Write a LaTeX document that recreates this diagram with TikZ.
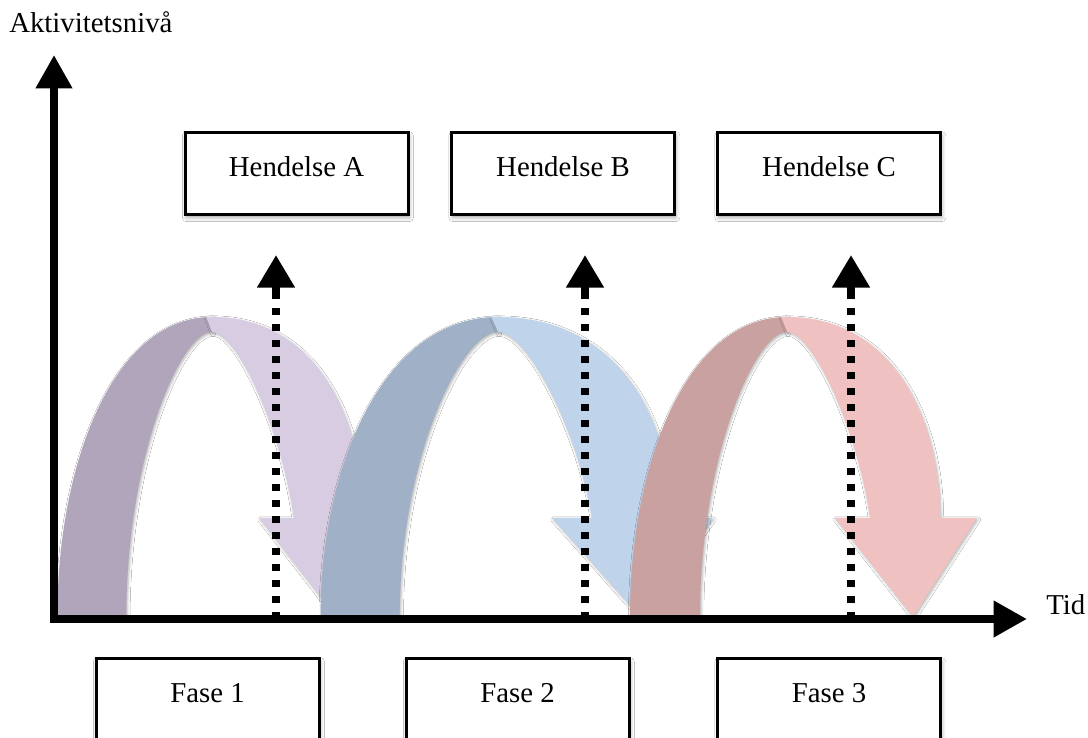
\documentclass[tikz,border=0pt]{standalone}
\usepackage{fontspec}
\setmainfont{Liberation Serif}
\usetikzlibrary{arrows.meta,shadows.blur}
\definecolor{purD}{RGB}{177,165,187}
\definecolor{purL}{RGB}{215,204,225}
\definecolor{bluD}{RGB}{160,176,198}
\definecolor{bluL}{RGB}{191,211,234}
\definecolor{pinD}{RGB}{201,161,161}
\definecolor{pinL}{RGB}{239,193,193}
\tikzset{
  lbl/.style={font=\fontsize{21.6pt}{26pt}\selectfont, inner sep=0pt},
  evbox/.style={draw=black, line width=2.25pt, fill=white,
    minimum width=167.25pt, text height=33pt, text depth=28.5pt,
    inner xsep=0pt, inner ysep=0pt, font=\fontsize{21.6pt}{26pt}\selectfont,
    blur shadow={shadow xshift=1pt, shadow yshift=-2pt, shadow blur radius=3pt, shadow opacity=35}},
  ribshadow/.style={blur shadow={shadow xshift=0.8pt, shadow yshift=-1.2pt, shadow blur radius=2pt, shadow opacity=30}},
  axisline/.style={line width=6pt, line join=miter},
  dotline/.style={line width=6pt, dash pattern=on 5.6pt off 6.4pt},
  bigtip/.tip={Triangle[width=26pt,length=25pt]},
  smalltip/.tip={Triangle[width=27pt,length=24.5pt]}
}
\newcommand{\ribbonarrow}[4]{%
  \begin{scope}[shift={(#1,121)},xscale=#2]
    \fill[#3, ribshadow] (-157,0) .. controls (-157,150) and (-102,300) .. (0,300)
      -- (0,285) .. controls (-32,285) and (-87,160) .. (-87,0) -- cycle;
    \fill[#4, ribshadow] (-6,300) -- (0,300) .. controls (105,300) and (153,200) .. (153,99)
      -- (190,99) -- (126,0) -- (48,99) -- (83,99)
      .. controls (70,190) and (25,285) .. (0,285) -- cycle;
  \end{scope}}
\begin{document}
\begin{tikzpicture}[x=0.75pt,y=0.75pt]
  \useasboundingbox (0,0) rectangle (1088,738);
  \clip (0,0) rectangle (1088,738);
  \fill[white] (0,0) rectangle (1088,738);

  % ribbon arrows
  \ribbonarrow{212}{0.985}{purD}{purL}
  \ribbonarrow{498}{1.13}{bluD}{bluL}
  \ribbonarrow{787}{1}{pinD}{pinL}

  % coordinates
  \coordinate (O) at (54,119);
  \coordinate (ytip) at (54,683);
  \coordinate (xtip) at (1027,119);
  \coordinate (d1b) at (276,119);
  \coordinate (d1m) at (276,440);
  \coordinate (d1t) at (276,483);
  \coordinate (d2b) at (585,119);
  \coordinate (d2m) at (585,440);
  \coordinate (d2t) at (585,483);
  \coordinate (d3b) at (851,119);
  \coordinate (d3m) at (851,440);
  \coordinate (d3t) at (851,483);

  % dotted event arrows
  \draw[dotline] (d1b) -- (d1m);
  \draw[line width=6pt, -smalltip] (d1m) -- (d1t);
  \draw[dotline] (d2b) -- (d2m);
  \draw[line width=6pt, -smalltip] (d2m) -- (d2t);
  \draw[dotline] (d3b) -- (d3m);
  \draw[line width=6pt, -smalltip] (d3m) -- (d3t);

  % axes
  \draw[axisline, bigtip-bigtip] (ytip) -- (O) -- (xtip);

  % boxes
  \node[evbox] (hA) at (296.5,564) {Hendelse A};
  \node[evbox] (hB) at (563,564) {Hendelse B};
  \node[evbox] (hC) at (829,564) {Hendelse C};
  \node[evbox] (f1) at (207.5,38) {Fase 1};
  \node[evbox] (f2) at (517.5,38) {Fase 2};
  \node[evbox] (f3) at (829,38) {Fase 3};

  % axis labels
  \node[lbl, anchor=base west] (ylab) at (9,705) {Aktivitetsnivå};
  \node[lbl, anchor=base west] (xlab) at (1046,123) {Tid};
\end{tikzpicture}
\end{document}
